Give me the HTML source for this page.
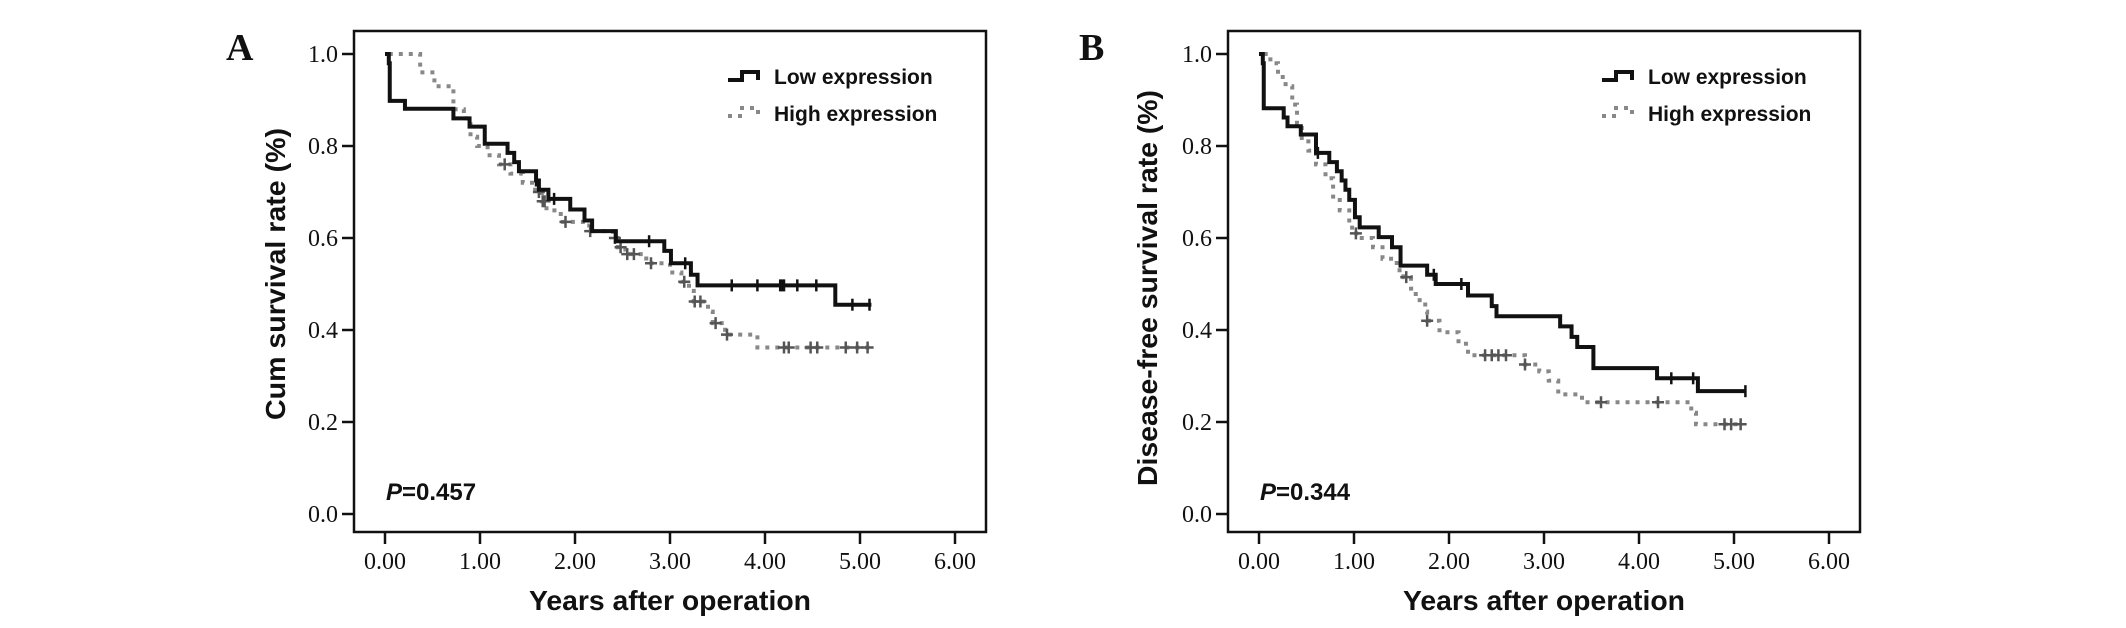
<!DOCTYPE html>
<html><head><meta charset="utf-8"><style>
body{margin:0;background:#fff;}
svg{display:block;}
.tick{font-family:"Liberation Serif",serif;font-size:24px;fill:#111;}
.ttl{font-family:"Liberation Sans",sans-serif;font-weight:bold;fill:#111;}
</style></head><body>
<svg id="chart" width="2126" height="628" viewBox="0 0 2126 628" xmlns="http://www.w3.org/2000/svg"></svg>
<script>
// Panel A data
const aLowT=[0,0.04,0.05,0.21,0.72,0.89,1.05,1.29,1.36,1.41,1.59,1.62,1.72,1.95,2.1,2.18,2.43,2.94,3.01,3.22,3.29,4.74,5.12];
const aLowS=[1.0,0.98,0.898,0.881,0.86,0.842,0.805,0.785,0.765,0.745,0.725,0.705,0.685,0.662,0.638,0.615,0.593,0.572,0.545,0.52,0.497,0.455,0.455];
const aLowCT=[1.59,1.78,2.78,3.16,3.65,3.92,4.16,4.18,4.2,4.34,4.54,4.92,5.1];
const aHighT=[0.04,0.37,0.52,0.72,0.83,0.9,0.97,1.08,1.2,1.32,1.45,1.58,1.65,1.7,1.85,2.15,2.4,2.45,2.53,2.75,3.0,3.12,3.2,3.25,3.4,3.45,3.58,3.92,5.12];
const aHighS=[1.0,0.96,0.93,0.88,0.86,0.82,0.80,0.78,0.76,0.74,0.72,0.70,0.68,0.66,0.635,0.615,0.60,0.58,0.565,0.545,0.525,0.505,0.485,0.462,0.44,0.415,0.39,0.362,0.362];
const aHighCT=[1.26,1.62,1.66,1.68,1.9,2.16,2.42,2.48,2.55,2.62,2.8,3.15,3.26,3.32,3.48,3.6,4.2,4.25,4.48,4.55,4.85,4.97,5.08];
// Panel B data
const bLowT=[0,0.04,0.05,0.26,0.3,0.44,0.6,0.74,0.82,0.87,0.91,0.95,1.01,1.06,1.26,1.4,1.49,1.77,1.86,2.2,2.45,2.5,3.17,3.29,3.35,3.52,4.19,4.62,5.13];
const bLowS=[1.0,0.98,0.882,0.862,0.843,0.825,0.785,0.765,0.745,0.725,0.705,0.683,0.645,0.623,0.602,0.58,0.54,0.52,0.50,0.475,0.452,0.43,0.408,0.385,0.363,0.317,0.295,0.267,0.267];
const bLowCT=[0.62,1.84,2.13,4.34,4.57,5.12];
const bHighT=[0.05,0.12,0.2,0.28,0.35,0.4,0.45,0.52,0.6,0.7,0.78,0.85,0.95,0.98,1.05,1.2,1.3,1.45,1.52,1.6,1.65,1.75,1.77,1.9,2.1,2.2,2.8,2.95,3.05,3.15,3.4,4.55,4.6,5.1];
const bHighS=[1.0,0.98,0.95,0.93,0.89,0.85,0.81,0.79,0.76,0.73,0.69,0.66,0.63,0.61,0.60,0.58,0.555,0.53,0.515,0.49,0.465,0.44,0.42,0.395,0.37,0.345,0.325,0.31,0.29,0.26,0.243,0.22,0.195,0.195];
const bHighCT=[1.02,1.55,1.77,2.38,2.45,2.52,2.6,2.8,3.6,4.2,4.9,4.97,5.07];
const xTicks=["0.00","1.00","2.00","3.00","4.00","5.00","6.00"];
const yTicks=["0.0","0.2","0.4","0.6","0.8","1.0"];

const NS="http://www.w3.org/2000/svg";
const svg=document.getElementById('chart');
function mk(tag,attrs,parent){const e=document.createElementNS(NS,tag);for(const k in attrs)e.setAttribute(k,attrs[k]);(parent||svg).appendChild(e);return e;}
function stepVal(T,S,t){let v=S[0];for(let i=0;i<T.length;i++){if(T[i]<=t)v=S[i];}return v;}

function panel(off,letter,ytitle,ylen,pval,lowT,lowS,lowC,highT,highS,highC){
  const g=mk('g',{});
  
  
  const X=t=>385+off+t*95, Y=v=>514-v*460;
  const box=mk('rect',{x:354+off,y:31,width:632,height:501,fill:'none',stroke:'#111','stroke-width':2.5},g);
  
  xTicks.forEach((lb,i)=>{
    const tk=mk('line',{x1:X(i),x2:X(i),y1:532,y2:544,stroke:'#111','stroke-width':2.5},g);
    
    const tx=mk('text',{x:X(i),y:569,'text-anchor':'middle',class:'tick'},g);tx.textContent=lb;
    
  });
  yTicks.forEach((lb,i)=>{
    const v=parseFloat(lb);
    const tk=mk('line',{x1:342+off,x2:354+off,y1:Y(v),y2:Y(v),stroke:'#111','stroke-width':2.5},g);
    
    const tx=mk('text',{x:338+off,y:Y(v)+8,'text-anchor':'end',class:'tick'},g);tx.textContent=lb;
    
  });
  const L=mk('text',{x:(letter==='A'?226:1079),y:60,'font-family':'Liberation Serif, serif','font-weight':'bold','font-size':38,fill:'#111'},g);
  L.textContent=letter;
  const cy=letter==='A'?274:288, cx=letter==='A'?285:1157;
  const yt=mk('text',{x:cx,y:cy,'text-anchor':'middle','font-size':28,textLength:ylen,lengthAdjust:'spacingAndGlyphs',class:'ttl',transform:`rotate(-90 ${cx} ${cy})`},g);
  yt.textContent=ytitle;
  const xt=mk('text',{x:X(3),y:610,'text-anchor':'middle','font-size':28,textLength:282,lengthAdjust:'spacingAndGlyphs',class:'ttl'},g);
  xt.textContent='Years after operation';
  const pt=mk('text',{x:386+off,y:500,'font-size':24,class:'ttl'},g);
  pt.innerHTML='<tspan font-style="italic">P</tspan>=' + pval;
  
  function series(T,S,C,color,dash,name,plus){
    let d=`M${X(T[0])},${Y(S[0])}`;
    for(let i=1;i<T.length;i++){d+=` H${X(T[i])} V${Y(S[i])}`;}
    const p=mk('path',{d:d,fill:'none',stroke:color,'stroke-width':4,'stroke-dasharray':dash},g);
    
    C.forEach(t=>{
      const x=X(t),y=Y(stepVal(T,S,t));
      const c=mk('path',{d:plus?`M${x},${y-6}V${y+6}M${x-6},${y}H${x+6}`:`M${x},${y-6}V${y+6}`,stroke:plus?'#555':'#111','stroke-width':2.5,fill:'none'},g);
      
    });
  }
  series(highT,highS,highC,'#888','4 6','high-expression',true);
  series(lowT,lowS,lowC,'#111','none','low-expression',false);
  const lg=mk('g',{},g);
  const lx=728+off;
  const l1=mk('path',{d:`M${lx},${80}H${lx+14}V${72}H${lx+30}V${80}`,stroke:'#111','stroke-width':4,fill:'none'},lg);
  
  const t1=mk('text',{x:lx+46,y:84,'font-size':21,class:'ttl'},lg);t1.textContent='Low expression';
  
  const l2=mk('path',{d:`M${lx},${116}H${lx+14}V${108}H${lx+30}V${116}`,stroke:'#888','stroke-width':4,'stroke-dasharray':'4 6',fill:'none'},lg);
  
  const t2=mk('text',{x:lx+46,y:121,'font-size':21,class:'ttl'},lg);t2.textContent='High expression';
  
}
panel(0,'A','Cum survival rate (%)',292,'0.457',aLowT,aLowS,aLowCT,aHighT,aHighS,aHighCT);
panel(874,'B','Disease-free  survival rate (%)',396,'0.344',bLowT,bLowS,bLowCT,bHighT,bHighS,bHighCT);
</script>
</body></html>
